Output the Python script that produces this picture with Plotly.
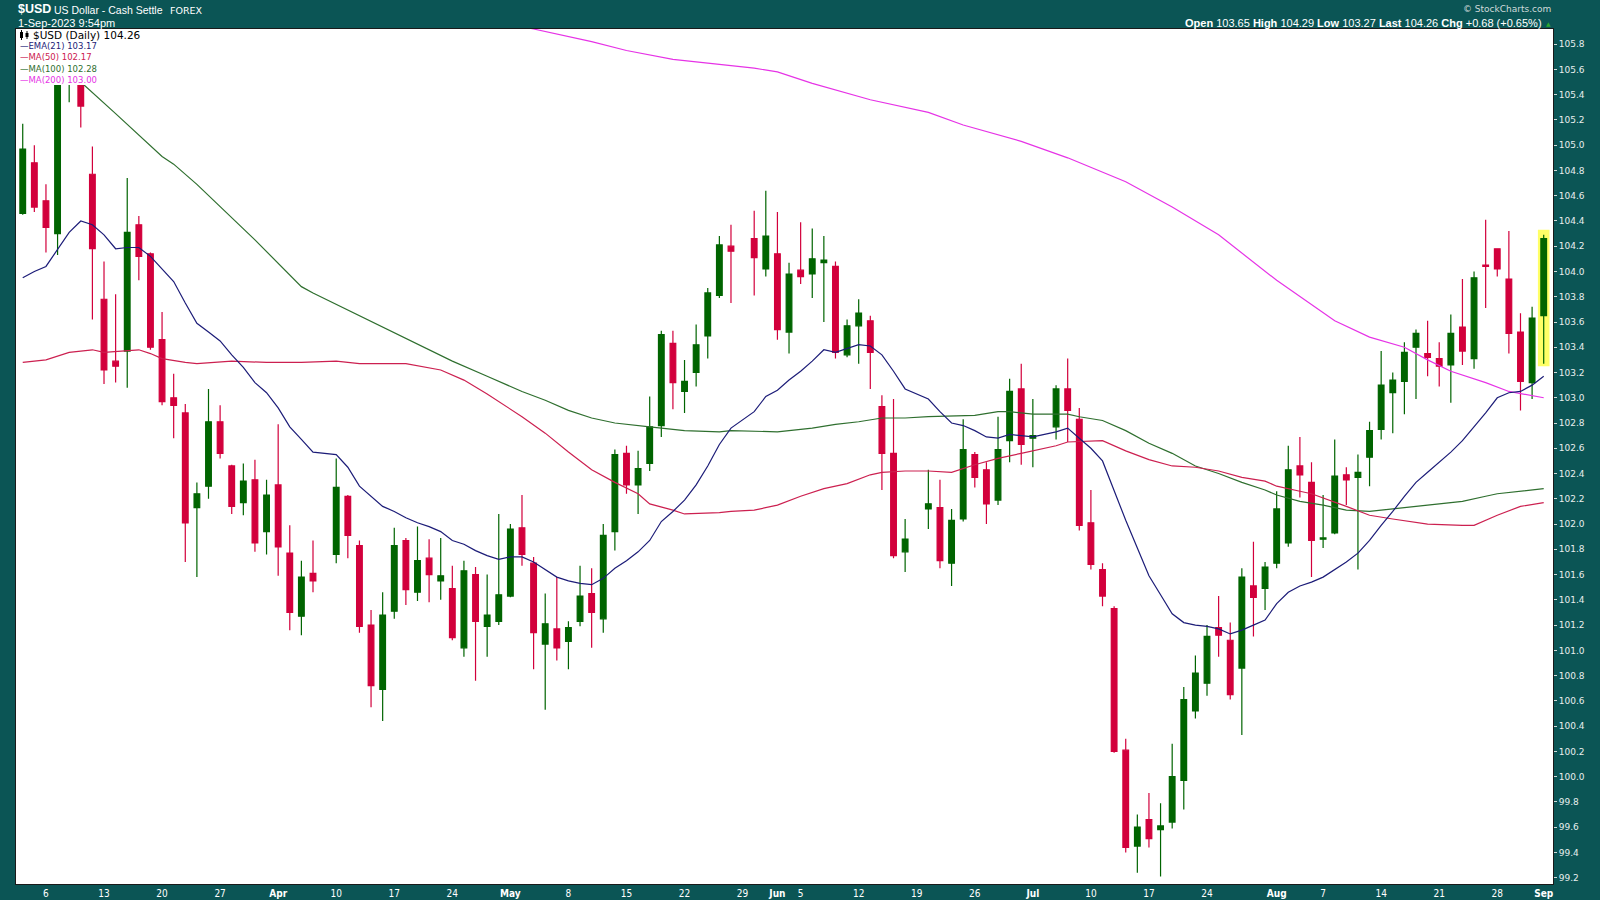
import pandas as pd
import plotly.graph_objects as go

# ---------------- data ----------------
YEAR = "2023-"
holidays = [YEAR + d for d in ["04-07", "05-29", "06-19", "07-04"]]
weekdays = [d.strftime("%Y-%m-%d") for d in pd.bdate_range("2023-03-02", "2023-09-01")]
dates = [d for d in weekdays if d not in holidays]

open_ = [104.46, 104.86, 104.56, 104.30, 105.55, 105.66, 104.77, 103.78, 103.29, 103.37,
         104.37, 104.14, 103.46, 103.00, 102.88, 102.13, 102.30, 102.81, 102.46, 102.17,
         102.35, 101.94, 102.31, 101.77, 101.27, 101.61, 101.76, 102.22, 101.83, 101.20,
         100.69, 101.31, 101.87, 101.46, 101.73, 101.55, 101.49, 101.02, 101.60, 101.19,
         101.23, 101.43, 101.97, 101.69, 101.05, 101.17, 101.07, 101.23, 101.45, 101.25,
         101.94, 102.56, 102.31, 102.48, 102.78, 103.43, 103.05, 103.20, 103.49, 103.81,
         104.20, 104.26, 104.02, 104.14, 103.52, 104.01, 103.98, 104.07, 104.04, 103.34,
         103.57, 103.61, 102.93, 102.56, 101.78, 102.12, 102.13, 101.69, 102.04, 102.55,
         102.43, 102.19, 102.66, 103.07, 102.68, 102.77, 103.07, 102.83, 102.01, 101.64,
         101.33, 100.21, 99.45, 99.66, 99.58, 99.64, 99.97, 100.52, 100.74, 101.18,
         101.08, 100.86, 101.51, 101.49, 101.69, 101.85, 102.46, 102.33, 101.88, 101.93,
         102.39, 102.37, 102.53, 102.75, 103.04, 103.13, 103.40, 103.35, 103.31, 103.26,
         103.56, 103.31, 104.05, 104.18, 103.94, 103.52, 103.12, 103.65]
high = [105.17, 105.00, 104.69, 105.66, 105.88, 105.72, 104.99, 104.08, 103.82, 104.74,
        104.44, 104.15, 103.68, 103.19, 102.95, 102.33, 103.07, 102.94, 102.47, 102.48,
        102.51, 102.35, 102.79, 101.99, 101.71, 101.87, 102.52, 102.23, 101.87, 101.32,
        101.46, 101.97, 101.89, 101.98, 101.88, 101.89, 101.67, 101.71, 101.66, 101.60,
        102.08, 102.00, 102.23, 101.74, 101.45, 101.58, 101.23, 101.67, 101.65, 102.00,
        102.59, 102.62, 102.58, 103.01, 103.53, 103.53, 103.30, 103.58, 103.87, 104.28,
        104.37, 104.48, 104.64, 104.47, 104.07, 104.39, 104.34, 104.28, 104.08, 103.62,
        103.78, 103.65, 103.02, 102.99, 102.04, 102.43, 102.35, 102.12, 102.83, 102.57,
        102.49, 102.85, 103.15, 103.27, 102.99, 103.10, 103.31, 102.92, 102.27, 101.69,
        101.35, 100.30, 99.70, 99.87, 99.79, 100.26, 100.71, 100.96, 101.20, 101.43,
        101.22, 101.65, 101.86, 101.70, 102.26, 102.62, 102.69, 102.49, 102.23, 102.67,
        102.45, 102.55, 102.81, 103.37, 103.20, 103.44, 103.54, 103.61, 103.44, 103.66,
        103.94, 104.00, 104.41, 104.18, 104.32, 103.67, 103.72, 104.29]
low = [104.45, 104.47, 104.15, 104.13, 105.34, 105.14, 103.62, 103.11, 103.12, 103.08,
       103.93, 103.38, 102.94, 102.68, 101.70, 101.58, 102.20, 102.52, 102.08, 102.07,
       101.78, 101.76, 101.59, 101.16, 101.12, 101.46, 101.69, 101.73, 101.14, 100.55,
       100.44, 101.25, 101.36, 101.39, 101.38, 101.40, 101.08, 100.95, 100.76, 100.95,
       101.20, 101.42, 101.67, 100.85, 100.53, 100.92, 100.85, 101.19, 101.02, 101.14,
       101.79, 102.24, 102.08, 102.42, 102.69, 102.91, 102.88, 103.09, 103.31, 103.79,
       103.75, 103.81, 103.96, 103.46, 103.35, 103.90, 103.79, 103.60, 103.31, 103.32,
       103.27, 103.07, 102.27, 101.73, 101.62, 101.96, 101.65, 101.51, 102.02, 102.29,
       102.00, 102.15, 102.49, 102.47, 102.45, 102.67, 102.65, 101.95, 101.64, 101.35,
       100.19, 99.40, 99.24, 99.44, 99.21, 99.59, 99.74, 100.46, 100.64, 100.95,
       100.61, 100.33, 101.11, 101.32, 101.65, 101.82, 102.21, 101.58, 101.81, 101.92,
       102.15, 101.64, 102.30, 102.67, 102.72, 102.87, 102.99, 103.17, 103.09, 102.96,
       103.26, 103.23, 103.71, 103.96, 103.35, 102.90, 102.99, 103.27]
close = [104.97, 104.51, 104.35, 105.60, 105.66, 105.31, 104.18, 103.22, 103.25, 104.31,
         104.12, 103.40, 102.97, 102.94, 102.01, 102.24, 102.81, 102.56, 102.14, 102.34,
         101.85, 102.23, 101.82, 101.30, 101.58, 101.55, 102.29, 101.91, 101.19, 100.72,
         101.28, 101.83, 101.48, 101.71, 101.60, 101.59, 101.10, 101.63, 101.23, 101.28,
         101.44, 101.96, 101.76, 101.14, 101.21, 101.02, 101.18, 101.43, 101.30, 101.91,
         102.55, 102.31, 102.44, 102.77, 103.50, 103.12, 103.13, 103.42, 103.83, 104.21,
         104.16, 104.11, 104.28, 103.54, 103.98, 103.96, 104.10, 104.09, 103.36, 103.57,
         103.67, 103.36, 102.56, 101.75, 101.88, 102.16, 101.71, 102.03, 102.59, 102.37,
         102.16, 102.59, 103.05, 102.63, 102.70, 103.07, 102.90, 101.99, 101.68, 101.43,
         100.20, 99.44, 99.60, 99.51, 99.61, 100.00, 100.61, 100.82, 101.11, 101.12,
         100.65, 101.58, 101.42, 101.66, 102.12, 102.43, 102.39, 101.87, 101.89, 102.38,
         102.35, 102.41, 102.74, 103.10, 103.14, 103.36, 103.51, 103.32, 103.25, 103.51,
         103.37, 103.95, 104.04, 104.02, 103.51, 103.13, 103.63, 104.26]

# EMA(21), one value per trading day
ema21 = [103.95, 104.00, 104.04, 104.17, 104.31, 104.40, 104.37, 104.29, 104.18, 104.19,
         104.19, 104.12, 104.02, 103.92, 103.75, 103.59, 103.52, 103.45, 103.34, 103.24,
         103.12, 103.04, 102.92, 102.77, 102.67, 102.57, 102.55, 102.45, 102.30, 102.22,
         102.14, 102.10, 102.05, 102.01, 101.98, 101.94, 101.87, 101.84, 101.79, 101.75,
         101.72, 101.74, 101.74, 101.70, 101.64, 101.58, 101.55, 101.53, 101.52, 101.57,
         101.65, 101.71, 101.78, 101.87, 102.02, 102.10, 102.19, 102.31, 102.46, 102.63,
         102.76, 102.89, 103.01, 103.06, 103.14, 103.21, 103.29, 103.38, 103.36, 103.39,
         103.42, 103.41, 103.34, 103.21, 103.07, 102.99, 102.89, 102.80, 102.78, 102.74,
         102.69, 102.68, 102.71, 102.70, 102.69, 102.73, 102.76, 102.68, 102.60, 102.50,
         102.26, 102.03, 101.81, 101.59, 101.44, 101.29, 101.22, 101.20, 101.19, 101.17,
         101.13, 101.16, 101.20, 101.24, 101.37, 101.46, 101.51, 101.54, 101.58, 101.64,
         101.70, 101.77, 101.87, 101.99, 102.10, 102.22, 102.33, 102.41, 102.49, 102.57,
         102.66, 102.77, 102.88, 103.00, 103.04, 103.05, 103.10, 103.17]

ma50_days = ["03-02", "03-06", "03-08", "03-10", "03-13", "03-15", "03-16", "03-17", "03-20", "03-22",
             "03-23", "03-28", "03-31", "04-05", "04-10", "04-12", "04-18", "04-21", "04-25", "04-27",
             "05-01", "05-02", "05-04", "05-08", "05-10", "05-12", "05-16", "05-17", "05-19", "05-22",
             "05-25", "05-26", "05-30", "06-01", "06-05", "06-07", "06-09", "06-13", "06-14", "06-16",
             "06-20", "06-22", "06-26", "06-28", "06-30", "07-05", "07-06", "07-11", "07-13", "07-17",
             "07-19", "07-21", "07-25", "07-27", "07-31", "08-01", "08-03", "08-04", "08-09", "08-11",
             "08-15", "08-18", "08-23", "08-24", "08-28", "08-30", "09-01"]
ma50_vals = [103.28, 103.30, 103.36, 103.38, 103.36, 103.37, 103.38, 103.35, 103.31, 103.28,
             103.27, 103.29, 103.28, 103.28, 103.29, 103.27, 103.27, 103.22, 103.14, 103.03,
             102.91, 102.85, 102.72, 102.57, 102.43, 102.33, 102.24, 102.16, 102.11, 102.08,
             102.09, 102.10, 102.11, 102.15, 102.22, 102.28, 102.32, 102.39, 102.41, 102.42,
             102.42, 102.41, 102.47, 102.52, 102.56, 102.62, 102.65, 102.66, 102.58, 102.51,
             102.46, 102.45, 102.42, 102.37, 102.34, 102.30, 102.26, 102.24, 102.14, 102.07,
             102.04, 102.00, 101.99, 101.99, 102.07, 102.14, 102.17]

ma100_days = ["03-02", "03-07", "03-09", "03-14", "03-17", "03-20", "03-21", "03-23", "03-30", "04-05",
              "04-06", "04-10", "04-13", "04-18", "04-24", "04-27", "05-02", "05-04", "05-08", "05-10",
              "05-12", "05-17", "05-22", "05-25", "05-26", "06-01", "06-06", "06-08", "06-12", "06-14",
              "06-16", "06-20", "06-26", "06-28", "06-29", "07-03", "07-06", "07-07", "07-11", "07-13",
              "07-17", "07-19", "07-21", "07-25", "07-27", "07-31", "08-01", "08-03", "08-07", "08-09",
              "08-11", "08-15", "08-18", "08-23", "08-25", "08-28", "09-01"]
ma100_vals = [105.75, 105.60, 105.50, 105.25, 105.00, 104.91, 104.85, 104.69, 104.25, 103.88,
              103.83, 103.74, 103.61, 103.47, 103.29, 103.17, 103.05, 102.98, 102.90, 102.84,
              102.80, 102.77, 102.74, 102.73, 102.74, 102.73, 102.76, 102.79, 102.81, 102.84,
              102.84, 102.85, 102.86, 102.89, 102.89, 102.87, 102.87, 102.85, 102.82, 102.74,
              102.64, 102.56, 102.46, 102.40, 102.33, 102.27, 102.23, 102.18, 102.15, 102.11,
              102.10, 102.12, 102.15, 102.18, 102.22, 102.24, 102.28]

ma200_days = ["03-02", "03-23", "04-13", "04-27", "05-03", "05-10", "05-15", "05-19", "05-25", "05-30",
              "06-01", "06-06", "06-13", "06-20", "06-23", "06-30", "07-06", "07-13", "07-19", "07-25",
              "08-01", "08-03", "08-08", "08-11", "08-16", "08-18", "08-22", "08-25", "08-29", "09-01"]
ma200_vals = [106.90, 106.55, 106.22, 106.00, 105.92, 105.82, 105.75, 105.68, 105.64, 105.61,
              105.58, 105.49, 105.36, 105.26, 105.16, 105.03, 104.90, 104.71, 104.51, 104.29,
              103.93, 103.80, 103.61, 103.48, 103.40, 103.30, 103.21, 103.12, 103.05, 103.00]

tick_days = ["03-06", "03-13", "03-20", "03-27", "04-03", "04-10", "04-17", "04-24", "05-01", "05-08",
             "05-15", "05-22", "05-29", "06-01", "06-05", "06-12", "06-19", "06-26", "07-03", "07-10",
             "07-17", "07-24", "08-01", "08-07", "08-14", "08-21", "08-28", "09-01"]
tick_labels = ["6", "13", "20", "27", "Apr", "10", "17", "24", "May", "8",
               "15", "22", "29", "Jun", "5", "12", "19", "26", "Jul", "10",
               "17", "24", "Aug", "7", "14", "21", "28", "Sep"]

# ---------------- styles ----------------
TEAL = "#0b5555"
GREEN = "#006400"
RED = "#d2003c"
C_EMA = "#1c1c78"
C_50 = "#cc2050"
C_100 = "#2f6f2f"
C_200 = "#e633e6"

W, H = 1600, 900
ML, MR, MT, MB = 16, 47, 29, 16
PW, PH = W - ML - MR, H - MT - MB


def px(X):
    return (X - ML) / PW


def py(Y):
    return (H - MB - Y) / PH


def full(days):
    return [YEAR + d for d in days]


fig = go.Figure()
fig.add_trace(go.Candlestick(
    x=dates, open=open_, high=high, low=low, close=close,
    increasing=dict(line=dict(color=GREEN, width=1.2), fillcolor=GREEN),
    decreasing=dict(line=dict(color=RED, width=1.2), fillcolor=RED),
    whiskerwidth=0, showlegend=False, hoverinfo="skip"))

for xs, ys, col in [(full(ma200_days), ma200_vals, C_200),
                    (full(ma100_days), ma100_vals, C_100),
                    (full(ma50_days), ma50_vals, C_50),
                    (dates, ema21, C_EMA)]:
    fig.add_trace(go.Scatter(x=xs, y=ys, mode="lines", line=dict(color=col, width=1.2),
                             showlegend=False, hoverinfo="skip"))

last_pos = weekdays.index(dates[-1])
shapes = [
    # highlight of the latest candle
    dict(type="rect", xref="x", yref="y", x0=last_pos - 0.5, x1=last_pos + 0.5,
         y0=low[-1] - 0.02, y1=high[-1] + 0.04, fillcolor="#ffff66", line=dict(width=0), layer="below"),
    # legend box
    dict(type="rect", xref="paper", yref="paper", x0=0, x1=px(150), y0=py(85), y1=1,
         fillcolor="white", line=dict(width=0), layer="above"),
    # small candle icon
    dict(type="line", xref="paper", yref="paper", x0=px(21.5), x1=px(21.5), y0=py(40), y1=py(30),
         line=dict(color="black", width=1), layer="above"),
    dict(type="rect", xref="paper", yref="paper", x0=px(20), x1=px(23), y0=py(38), y1=py(32),
         fillcolor="black", line=dict(width=0), layer="above"),
    dict(type="line", xref="paper", yref="paper", x0=px(27), x1=px(27), y0=py(39), y1=py(31),
         line=dict(color="black", width=1), layer="above"),
    dict(type="rect", xref="paper", yref="paper", x0=px(25.5), x1=px(28.5), y0=py(37), y1=py(33),
         fillcolor="black", line=dict(width=0), layer="above"),
]

LEG_FONT = "DejaVu Sans, Verdana, sans-serif"
HEAD_FONT = "Liberation Sans, Arial, sans-serif"
ann = [
    dict(text="$USD (Daily) 104.26", x=px(31), y=py(35), color="black", size=10.5, font=LEG_FONT),
    dict(text="\u2014EMA(21) 103.17", x=px(18), y=py(46), color=C_EMA, size=8.5, font=LEG_FONT),
    dict(text="\u2014MA(50) 102.17", x=px(18), y=py(57.5), color=C_50, size=8.5, font=LEG_FONT),
    dict(text="\u2014MA(100) 102.28", x=px(18), y=py(69), color=C_100, size=8.5, font=LEG_FONT),
    dict(text="\u2014MA(200) 103.00", x=px(18), y=py(80), color=C_200, size=8.5, font=LEG_FONT),
    dict(text="<b>$USD</b>", x=px(16), y=py(9.5), color="white", size=12.5, font=HEAD_FONT),
    dict(text="US Dollar - Cash Settle", x=px(52), y=py(10), color="white", size=10.5, font=HEAD_FONT),
    dict(text="FOREX", x=px(168), y=py(10.5), color="white", size=9.5, font=LEG_FONT),
    dict(text="1-Sep-2023 9:54pm", x=px(16), y=py(22.5), color="white", size=11, font=HEAD_FONT),
]
annotations = []
for a in ann:
    annotations.append(dict(text=a["text"], x=a["x"], y=a["y"], xref="paper", yref="paper",
                            xanchor="left", yanchor="middle", showarrow=False,
                            font=dict(color=a["color"], size=a["size"], family=a["font"])))
annotations.append(dict(text="\u00a9 StockCharts.com", x=px(1553), y=py(9.5), xref="paper", yref="paper",
                        xanchor="right", yanchor="middle", showarrow=False,
                        font=dict(color="#cfdada", size=9, family=LEG_FONT)))
annotations.append(dict(
    text=("<b>Open</b> 103.65 <b>High</b> 104.29 <b>Low</b> 103.27 "
          "<b>Last</b> 104.26 <b>Chg</b> +0.68 (+0.65%)"),
    x=px(1544), y=py(23), xref="paper", yref="paper", xanchor="right", yanchor="middle",
    showarrow=False, font=dict(color="white", size=11, family=HEAD_FONT)))
annotations.append(dict(text="\u25b2", x=px(1548), y=py(23.5), xref="paper", yref="paper",
                        xanchor="center", yanchor="middle", showarrow=False,
                        font=dict(color="#2ea82e", size=6, family=LEG_FONT)))

fig.update_layout(
    width=W, height=H, margin=dict(l=ML, r=MR, t=MT, b=MB, autoexpand=False),
    paper_bgcolor=TEAL, plot_bgcolor="white", showlegend=False,
    shapes=shapes, annotations=annotations,
    xaxis=dict(type="category", categoryorder="array", categoryarray=weekdays,
               range=[-0.58, len(weekdays) - 0.2], automargin=False,
               tickmode="array", tickvals=full(tick_days),
               ticktext=[("<b>%s</b>" % t) if t.isalpha() else t for t in tick_labels],
               tickfont=dict(color="white", size=10,
                             family="Liberation Sans Narrow, DejaVu Sans Condensed, Arial Narrow, sans-serif"),
               showgrid=False, zeroline=False, ticks="", rangeslider=dict(visible=False),
               showline=True, linecolor="#1a1a1a", linewidth=1, mirror=True, fixedrange=True),
    yaxis=dict(side="right", range=[99.15, 105.92], tick0=99.2, dtick=0.2, tickformat=".1f",
               automargin=False,
               tickfont=dict(color="#e8eeee", size=9, family=LEG_FONT),
               ticks="outside", ticklen=3, tickcolor="#cfdada",
               showgrid=False, zeroline=False,
               showline=True, linecolor="#1a1a1a", linewidth=1, mirror=True, fixedrange=True),
)

fig.write_html("out.html", config={"displayModeBar": False},
               post_script="document.body.style.margin='0px';")
